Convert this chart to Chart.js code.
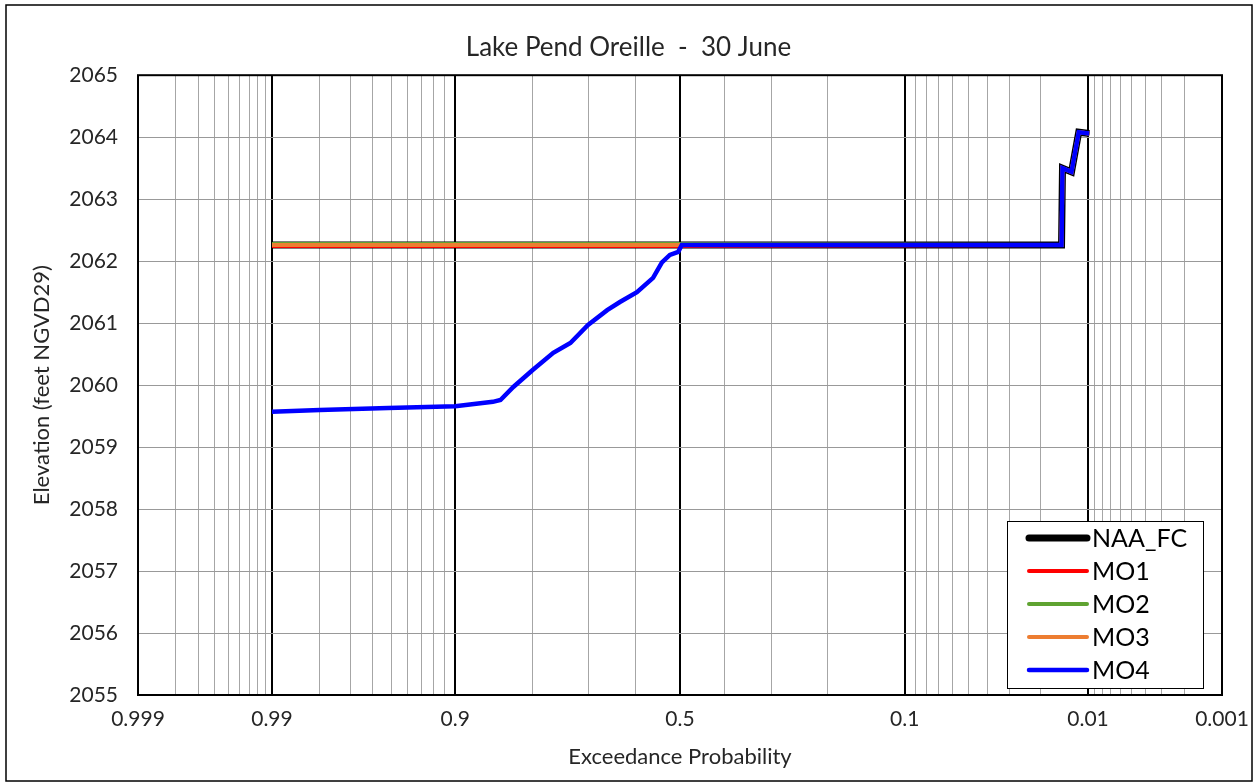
<!DOCTYPE html>
<html>
<head>
<meta charset="utf-8">
<title>Lake Pend Oreille - 30 June</title>
<script src="https://cdn.jsdelivr.net/npm/chart.js@4.4.1/dist/chart.umd.min.js"></script>
<style>
  html, body { margin: 0; padding: 0; background: #fff; }
  #wrap { width: 1257px; height: 784px; }
</style>
</head>
<body>
<div id="wrap"><canvas id="chart"></canvas></div>
<script>
// upper tail (all runs identical here)
const tailProb = [0.0148, 0.0146, 0.0128, 0.0115, 0.0098];
const tailElev = [2062.26, 2063.50, 2063.44, 2064.08, 2064.06];

// flat part from 0.99 down to 0.5
const flatProb = [0.99, 0.5];
const naaElev = [2062.26, 2062.26];
const mo1Elev = [2062.245, 2062.245];
const mo2Elev = [2062.275, 2062.275];
const mo3Elev = [2062.26, 2062.26];

// MO4 is drawn down in the dry years
const mo4Prob = [0.99, 0.98, 0.952, 0.9, 0.857, 0.847, 0.829, 0.80, 0.765, 0.734, 0.70,
                 0.661, 0.634, 0.597, 0.561, 0.541, 0.523, 0.504, 0.496];
const mo4Elev = [2059.57, 2059.60, 2059.63, 2059.66, 2059.73, 2059.76, 2059.97, 2060.24, 2060.52, 2060.68, 2060.97,
                 2061.21, 2061.34, 2061.50, 2061.73, 2061.98, 2062.10, 2062.15, 2062.26];

// probability axis
const xLabels = [0.999, 0.99, 0.9, 0.5, 0.1, 0.01, 0.001];
const majorLines = [0.99, 0.9, 0.5, 0.1, 0.01];
const minorLines = [0.998, 0.997, 0.996, 0.995, 0.994, 0.993, 0.992, 0.991,
                    0.98, 0.97, 0.96, 0.95, 0.94, 0.93, 0.92, 0.91,
                    0.8, 0.7, 0.6, 0.4, 0.3, 0.2,
                    0.09, 0.08, 0.07, 0.06, 0.05, 0.04, 0.03, 0.02,
                    0.009, 0.008, 0.007, 0.006, 0.005, 0.004, 0.003, 0.002];
const yTicks = [2055, 2056, 2057, 2058, 2059, 2060, 2061, 2062, 2063, 2064, 2065];

const FONT = 'Lato, "Open Sans", sans-serif';
const TXT = '#262626';

// inverse standard normal (Acklam)
function probit(p) {
  const a = [-39.69683028665376, 220.9460984245205, -275.9285104469687, 138.3577518672690, -30.66479806614716, 2.506628277459239];
  const b = [-54.47609879822406, 161.5858368580409, -155.6989798598866, 66.80131188771972, -13.28068155288572];
  const c = [-0.007784894002430293, -0.3223964580411365, -2.400758277161838, -2.549671285433780, 4.374664141464968, 2.938163982698783];
  const d = [0.007784695709041462, 0.3224671290700398, 2.445134137142996, 3.754408661907416];
  const pl = 0.02425;
  let q, r;
  if (p < pl) {
    q = Math.sqrt(-2 * Math.log(p));
    return (((((c[0]*q+c[1])*q+c[2])*q+c[3])*q+c[4])*q+c[5]) / ((((d[0]*q+d[1])*q+d[2])*q+d[3])*q+1);
  }
  if (p > 1 - pl) {
    q = Math.sqrt(-2 * Math.log(1 - p));
    return -(((((c[0]*q+c[1])*q+c[2])*q+c[3])*q+c[4])*q+c[5]) / ((((d[0]*q+d[1])*q+d[2])*q+d[3])*q+1);
  }
  q = p - 0.5; r = q * q;
  return (((((a[0]*r+a[1])*r+a[2])*r+a[3])*r+a[4])*r+a[5])*q / (((((b[0]*r+b[1])*r+b[2])*r+b[3])*r+b[4])*r+1);
}

function toPoints(probs, elevs) {
  return probs.map((p, i) => ({ x: probit(p), y: elevs[i] }));
}

const gridProbs = [0.999, ...majorLines, ...minorLines, 0.001].sort((a, b) => b - a);

const series = [
  { label: 'NAA_FC', color: '#000000', width: 7, pts: toPoints([...flatProb, ...tailProb], [...naaElev, ...tailElev]) },
  { label: 'MO1', color: '#ff0000', width: 4, pts: toPoints([...flatProb, ...tailProb], [...mo1Elev, ...tailElev]) },
  { label: 'MO2', color: '#5fa331', width: 4, pts: toPoints([...flatProb, ...tailProb], [...mo2Elev, ...tailElev]) },
  { label: 'MO3', color: '#ed7d31', width: 4, pts: toPoints([...flatProb, ...tailProb], [...mo3Elev, ...tailElev]) },
  { label: 'MO4', color: '#0000ff', width: 4.5, pts: toPoints([...mo4Prob, ...tailProb], [...mo4Elev, ...tailElev]) }
];

// plot frame, legend box and outer border
const decorations = {
  id: 'decorations',
  beforeDatasetsDraw(chart) {
    const { ctx, chartArea: a } = chart;
    ctx.save();
    ctx.strokeStyle = '#000';
    ctx.lineWidth = 2;
    ctx.strokeRect(a.left, a.top, a.right - a.left, a.bottom - a.top);
    ctx.restore();
  },
  afterDraw(chart) {
    const { ctx, chartArea: a } = chart;
    ctx.save();
    // legend
    const bx = a.right - 215, by = a.bottom - 174, bw = 196, bh = 167;
    ctx.fillStyle = '#fff';
    ctx.fillRect(bx, by, bw, bh);
    ctx.strokeStyle = '#000';
    ctx.lineWidth = 1;
    ctx.strokeRect(bx + 0.5, by + 0.5, bw, bh);
    ctx.font = '25px ' + FONT;
    ctx.textBaseline = 'middle';
    ctx.textAlign = 'left';
    series.forEach((s, i) => {
      const yy = by + 17 + i * 33;
      ctx.beginPath();
      ctx.strokeStyle = s.color;
      ctx.lineWidth = s.width;
      ctx.lineCap = 'round';
      ctx.moveTo(bx + 22, yy);
      ctx.lineTo(bx + 80, yy);
      ctx.stroke();
      ctx.fillStyle = '#000';
      ctx.fillText(s.label, bx + 85, yy + 1);
    });
    // outer border
    ctx.strokeStyle = '#000';
    ctx.lineWidth = 1.5;
    ctx.strokeRect(6, 5, 1246, 776);
    ctx.restore();
  }
};

new Chart(document.getElementById('chart'), {
  type: 'line',
  data: {
    datasets: series.map((s, i) => ({
      label: s.label,
      data: s.pts,
      borderColor: s.color,
      backgroundColor: s.color,
      borderWidth: s.width,
      pointRadius: 0,
      tension: 0,
      fill: false,
      order: series.length - i
    }))
  },
  options: {
    responsive: true,
    maintainAspectRatio: false,
    animation: false,
    layout: { padding: { left: 35, right: 35, top: 0, bottom: 0 } },
    plugins: {
      legend: { display: false },
      tooltip: { enabled: false },
      title: {
        display: true,
        text: 'Lake Pend Oreille  -  30 June',
        color: TXT,
        font: { family: FONT, size: 26, weight: 'normal', lineHeight: 1.2 },
        padding: { top: 32, bottom: 12 }
      }
    },
    scales: {
      x: {
        type: 'linear',
        reverse: true,
        min: probit(0.999),
        max: probit(0.001),
        afterFit(scale) {
          scale.height = 89;
          scale.paddingLeft = 0;
          scale.paddingRight = 0;
        },
        afterBuildTicks(scale) {
          scale.ticks = gridProbs.map(p => ({ value: probit(p) }));
        },
        ticks: {
          autoSkip: false,
          maxRotation: 0,
          padding: 12,
          color: TXT,
          font: { family: FONT, size: 21 },
          callback(value, index) {
            const p = gridProbs[index];
            return xLabels.includes(p) ? String(p) : '';
          }
        },
        grid: {
          drawTicks: false,
          color(ctx) { return majorLines.includes(gridProbs[ctx.index]) ? '#000' : '#a6a6a6'; },
          lineWidth(ctx) { return majorLines.includes(gridProbs[ctx.index]) ? 2 : 1; }
        },
        border: { display: false },
        title: {
          display: true,
          text: 'Exceedance Probability',
          color: TXT,
          font: { family: FONT, size: 22 },
          padding: { top: 0, bottom: 14 }
        }
      },
      y: {
        min: 2055,
        max: 2065,
        afterFit(scale) { scale.width = 103; },
        afterBuildTicks(scale) {
          scale.ticks = yTicks.map(v => ({ value: v }));
        },
        ticks: {
          padding: 20,
          color: TXT,
          font: { family: FONT, size: 21 },
          callback(value) { return String(value); }
        },
        grid: { drawTicks: false, color: '#999', lineWidth: 1 },
        border: { display: false },
        title: {
          display: true,
          text: 'Elevation (feet NGVD29)',
          color: TXT,
          font: { family: FONT, size: 22 },
          padding: { top: -6, bottom: 0 }
        }
      }
    }
  },
  plugins: [decorations]
});
</script>
</body>
</html>
